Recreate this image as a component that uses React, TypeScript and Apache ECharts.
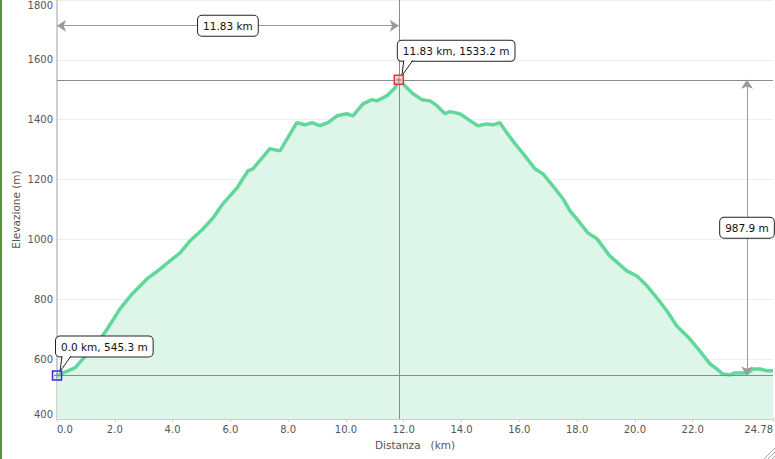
import React, { useEffect, useRef } from "react";
import * as echarts from "echarts";

// ---- data ----
const distanceKm = [
  0.0, 0.21, 0.62, 0.9, 1.38, 1.76, 2.18, 2.6, 3.11, 3.49, 3.91, 4.26, 4.6, 5.05, 5.4, 5.74,
  6.23, 6.61, 6.78, 7.02, 7.37, 7.72, 7.99, 8.3, 8.58, 8.82, 9.1, 9.38, 9.69, 10.03, 10.24,
  10.59, 10.9, 11.07, 11.42, 11.7, 11.83, 12.11, 12.32, 12.63, 12.91, 13.15, 13.43, 13.6,
  13.94, 14.29, 14.57, 14.88, 15.09, 15.33, 15.57, 15.85, 16.19, 16.54, 16.82, 17.16, 17.51,
  17.75, 18.1, 18.37, 18.69, 19.13, 19.72, 20.07, 20.42, 20.76, 21.11, 21.45, 21.9, 22.25,
  22.6, 22.84, 23.04, 23.29, 23.46, 23.74, 23.91, 24.08, 24.33, 24.57, 24.78,
];
const elevationM = [
  545.3, 554, 571, 601, 651, 704, 768, 818, 868, 895, 928, 955, 995, 1035, 1072, 1119,
  1172, 1229, 1236, 1263, 1303, 1296, 1340, 1390, 1383, 1390, 1380, 1390, 1413, 1420, 1413,
  1453, 1467, 1463, 1480, 1507, 1533.2, 1507, 1487, 1467, 1463, 1447, 1420, 1427,
  1420, 1397, 1380, 1386, 1383, 1390, 1356, 1320, 1280, 1236, 1219, 1179, 1136,
  1096, 1055, 1022, 1002, 945, 895, 878, 845, 805, 761, 711, 668, 627,
  584, 567, 550, 547, 554, 554, 554, 567, 567, 561, 561,
];
const xTickValues = [0, 2, 4, 6, 8, 10, 12, 14, 16, 18, 20, 22, 24.78];
const xMax = 24.78;
const yMin = 400;
const yMax = 1800;
const yStep = 200;

const calloutKm = [0.0, 11.83];
const calloutElev = [545.3, 1533.2];
const calloutText = ["0.0 km, 545.3 m", "11.83 km, 1533.2 m"];

const peakKm = 11.83;
const peakElev = 1533.2;
const startElev = 545.3;

// ---- annotation layout (data space) ----
const dimLineElev = 1714; // height of horizontal distance dimension
const dimLineKm = 23.88; // position of vertical elevation dimension

const FONT = '"DejaVu Sans", Verdana, sans-serif';

export default function App() {
  const ref = useRef<HTMLDivElement>(null);
  useEffect(() => {
    if (!ref.current) return;
    const chart = echarts.init(ref.current, null, { renderer: "svg" });
    const profile = distanceKm.map((d, i) => [d, elevationM[i]]);
    const markerStroke = ["#3030d0", "#e03838"];
    const markerFill = ["rgba(200,200,255,0.35)", "rgba(255,205,205,0.8)"];
    const dimTexts = [`${peakKm.toFixed(2)} km`, `${(peakElev - startElev).toFixed(1)} m`];
    const dimPoints = [
      [peakKm / 2, dimLineElev],
      [dimLineKm, (peakElev + startElev) / 2],
    ];

    const boxStyle = {
      fill: "#111",
      font: `10.5px ${FONT}`,
      backgroundColor: "#fff",
      borderColor: "#222",
      borderWidth: 1,
      borderRadius: 4,
      padding: [5, 5, 4, 5],
    };

    chart.setOption({
      animation: false,
      grid: {
        left: 57,
        right: 2,
        top: 0,
        bottom: 40,
        containLabel: false,
        outerBoundsMode: "none",
      },
      xAxis: {
        type: "value",
        min: 0,
        max: xMax,
        interval: 2,
        name: "Distanza   (km)",
        nameLocation: "middle",
        nameGap: 20,
        nameMoveOverlap: false,
        nameTextStyle: { color: "#555", fontSize: 10.5, fontFamily: FONT },
        axisLine: { show: true, lineStyle: { color: "#cfcfcf", width: 2 } },
        axisTick: {
          show: true,
          length: 3,
          customValues: xTickValues,
          lineStyle: { color: "#cfcfcf", width: 1 },
        },
        axisLabel: {
          customValues: xTickValues,
          color: "#555",
          fontSize: 10,
          fontFamily: FONT,
          margin: 5,
          alignMinLabel: "left",
          alignMaxLabel: "right",
          formatter: (v: number) => (v === xMax ? String(xMax) : v.toFixed(1)),
        },
        splitLine: { show: false },
      },
      yAxis: {
        type: "value",
        min: yMin,
        max: yMax,
        interval: yStep,
        name: "Elevazione (m)",
        nameLocation: "middle",
        nameGap: 36,
        nameMoveOverlap: false,
        nameRotate: 90,
        nameTextStyle: { color: "#555", fontSize: 10.5, fontFamily: FONT },
        axisLine: { show: true, lineStyle: { color: "#cfcfcf", width: 2 } },
        axisTick: { show: false },
        axisLabel: {
          color: "#555",
          fontSize: 10,
          fontFamily: FONT,
          margin: 4,
          verticalAlignMinLabel: "bottom",
          verticalAlignMaxLabel: "top",
          formatter: (v: number) => String(v),
        },
        splitLine: { show: true, lineStyle: { color: "#eeeeee", width: 1 } },
      },
      graphic: [
        { type: "rect", left: 0, top: 0, shape: { x: 0, y: 0, width: 2, height: 459 }, style: { fill: "#5a962e" } },
        { type: "line", shape: { x1: 775, y1: 448, x2: 764, y2: 459 }, style: { stroke: "#aaa", lineWidth: 1 } },
        { type: "line", shape: { x1: 775, y1: 452, x2: 768, y2: 459 }, style: { stroke: "#aaa", lineWidth: 1 } },
        { type: "line", shape: { x1: 775, y1: 456, x2: 772, y2: 459 }, style: { stroke: "#aaa", lineWidth: 1 } },
      ],
      series: [
        {
          type: "line",
          data: profile,
          symbol: "none",
          smooth: false,
          lineStyle: { color: "#62d79b", width: 3.5 },
          areaStyle: { color: "#ddf6e9", opacity: 1 },
          z: 2,
          markLine: {
            silent: true,
            symbol: ["none", "none"],
            symbolSize: 9,
            label: { show: false },
            lineStyle: { color: "#8a8a8a", width: 1, type: "solid" },
            data: [
              { xAxis: peakKm },
              { yAxis: peakElev },
              { yAxis: startElev },
              [
                { coord: [0, dimLineElev], symbol: "arrow", lineStyle: { color: "#9a9a9a" } },
                { coord: [peakKm, dimLineElev], symbol: "arrow" },
              ],
              [
                { coord: [dimLineKm, startElev], symbol: "arrow", lineStyle: { color: "#9a9a9a" } },
                { coord: [dimLineKm, peakElev], symbol: "arrow" },
              ],
            ],
          },
        },
        {
          type: "custom",
          clip: false,
          z: 10,
          silent: true,
          data: dimPoints,
          encode: { x: 0, y: 1 },
          renderItem: (params: any, api: any) => {
            const i = params.dataIndex;
            const p = api.coord([api.value(0), api.value(1)]);
            return {
              type: "text",
              x: p[0],
              y: p[1],
              style: { ...boxStyle, text: dimTexts[i], align: "center", verticalAlign: "middle" },
            };
          },
        },
        {
          type: "custom",
          clip: false,
          z: 11,
          silent: true,
          data: calloutKm.map((k, i) => [k, calloutElev[i]]),
          encode: { x: 0, y: 1 },
          renderItem: (params: any, api: any) => {
            const i = params.dataIndex;
            const p = api.coord([api.value(0), api.value(1)]);
            const x = p[0];
            const y = p[1];
            const B = y - 19;
            return {
              type: "group",
              children: [
                {
                  type: "text",
                  x: x - 1,
                  y: B,
                  style: { ...boxStyle, text: calloutText[i], align: "left", verticalAlign: "bottom" },
                },
                {
                  type: "polygon",
                  shape: { points: [[x + 5, B - 1.5], [x + 3, y - 4], [x + 14, B - 1.5]] },
                  style: { fill: "#fff" },
                },
                {
                  type: "polyline",
                  shape: { points: [[x + 5, B - 0.5], [x + 3, y - 4], [x + 14, B - 0.5]] },
                  style: { stroke: "#222", lineWidth: 1, fill: null },
                },
                {
                  type: "rect",
                  shape: { x: x - 4.5, y: y - 4.5, width: 9, height: 9 },
                  style: { stroke: markerStroke[i], lineWidth: 1.5, fill: markerFill[i] },
                },
                {
                  type: "line",
                  shape: { x1: x - 3, y1: y, x2: x + 3, y2: y },
                  style: { stroke: "#888", lineWidth: 1 },
                },
                {
                  type: "line",
                  shape: { x1: x, y1: y - 3, x2: x, y2: y + 3 },
                  style: { stroke: "#888", lineWidth: 1 },
                },
              ],
            };
          },
        },
      ],
    });
    return () => chart.dispose();
  }, []);

  return (
    <div
      ref={ref}
      style={{ position: "fixed", left: 0, top: 0, width: 775, height: 459, background: "#fff" }}
    />
  );
}
